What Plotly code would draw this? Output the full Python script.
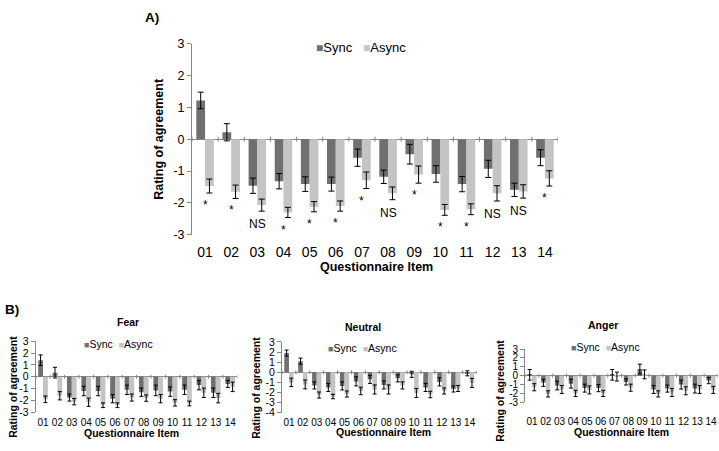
import plotly.graph_objects as go

# ---------------- data ----------------
items = ["01", "02", "03", "04", "05", "06", "07", "08", "09", "10", "11", "12", "13", "14"]

# Panel A (overall)
a_sync = [1.22, 0.22, -1.46, -1.32, -1.41, -1.41, -0.58, -1.18, -0.47, -1.09, -1.41, -0.93, -1.59, -0.58]
a_sync_err = [0.26, 0.27, 0.24, 0.24, 0.23, 0.22, 0.27, 0.21, 0.31, 0.26, 0.24, 0.27, 0.21, 0.25]
a_async = [-1.47, -1.65, -2.07, -2.30, -2.12, -2.10, -1.29, -1.70, -1.11, -2.22, -2.20, -1.70, -1.64, -1.23]
a_async_err = [0.22, 0.21, 0.19, 0.16, 0.16, 0.16, 0.26, 0.20, 0.27, 0.17, 0.17, 0.24, 0.21, 0.24]
a_sig = ["*", "*", "NS", "*", "*", "*", "*", "NS", "*", "*", "*", "NS", "NS", "*"]

# Panel B - Fear
fear_sync = [1.40, 0.35, -1.75, -1.20, -1.20, -1.85, -1.10, -1.30, -1.15, -1.25, -1.10, -0.70, -1.35, -0.60]
fear_sync_err = [0.45, 0.45, 0.30, 0.40, 0.40, 0.35, 0.40, 0.35, 0.45, 0.40, 0.40, 0.40, 0.40, 0.30]
fear_async = [-1.90, -1.60, -2.10, -2.15, -2.40, -2.40, -1.75, -1.80, -1.85, -2.20, -2.25, -1.35, -1.80, -0.85]
fear_async_err = [0.28, 0.35, 0.27, 0.35, 0.20, 0.20, 0.30, 0.27, 0.35, 0.27, 0.20, 0.40, 0.40, 0.40]

# Panel B - Neutral
neutral_sync = [1.90, 1.10, -1.30, -1.50, -1.35, -0.90, -0.70, -1.25, -0.60, -0.20, -1.50, -0.95, -1.65, -0.10]
neutral_sync_err = [0.30, 0.30, 0.35, 0.40, 0.40, 0.45, 0.40, 0.40, 0.35, 0.30, 0.40, 0.40, 0.30, 0.25]
neutral_async = [-1.00, -1.20, -2.25, -2.40, -2.15, -1.85, -1.70, -1.70, -1.30, -2.05, -2.20, -1.85, -1.60, -1.05]
neutral_async_err = [0.42, 0.44, 0.30, 0.22, 0.30, 0.37, 0.45, 0.45, 0.35, 0.45, 0.32, 0.30, 0.30, 0.45]

# Panel B - Anger
anger_sync = [0.10, -0.80, -1.10, -0.90, -1.40, -1.40, 0.10, -0.70, 0.75, -1.55, -1.45, -1.00, -1.45, -0.55]
anger_sync_err = [0.60, 0.40, 0.50, 0.50, 0.45, 0.40, 0.60, 0.35, 0.55, 0.45, 0.40, 0.50, 0.50, 0.35]
anger_async = [-1.30, -2.05, -1.55, -2.00, -1.60, -2.00, -0.10, -1.35, 0.15, -2.05, -1.90, -1.70, -1.55, -1.60]
anger_async_err = [0.40, 0.35, 0.45, 0.35, 0.45, 0.35, 0.50, 0.40, 0.50, 0.35, 0.45, 0.45, 0.45, 0.40]

ytick_a = [3, 2, 1, 0, -1, -2, -3]
ytick_a_text = ["3", "2", "1", "0", "-1", "-2", "-3"]
ytick_n = [3, 2, 1, 0, -1, -2, -3, -4]
ytick_n_text = ["3", "2", "1", "0", "-1", "-2", "-3", "-4"]

# ---------------- style ----------------
W, H = 719, 451
SYNC_C = "#707070"
ASYNC_C = "#c4c4c4"
AX_C = "#868686"
FONT = "Liberation Sans, Arial, sans-serif"


def px(x):
    return x / W


def py(y):
    return 1 - y / H


panels = [
    dict(sfx="", sync=a_sync, se=a_sync_err, asy=a_async, ae=a_async_err,
         x0=192, x1=558, ytop=38, ybot=235, yr=(-3, 3), yt=ytick_a, ytt=ytick_a_text,
         tickfs=14, ytickfs=12.5, cap=3, standoff=7, tlen=2.5,
         title=None, ytitle=(159, 136), xtitle=(377, 268), titlefs=12.5,
         legend=(314, 42), legfs=13, sqfs=12, gap=3),
    dict(sfx="2", sync=fear_sync, se=fear_sync_err, asy=fear_async, ae=fear_async_err,
         x0=35.8, x1=237.4, ytop=345, ybot=418.3, yr=(-3, 3), yt=ytick_a, ytt=ytick_a_text,
         tickfs=10, ytickfs=10.5, cap=2, standoff=3, tlen=2,
         title=("Fear", 128, 325.5), ytitle=(13, 392), xtitle=(131, 439.5), titlefs=10.5,
         legend=(82, 348), legfs=10.5, sqfs=9, gap=2),
    dict(sfx="3", sync=neutral_sync, se=neutral_sync_err, asy=neutral_async, ae=neutral_async_err,
         x0=282, x1=476.6, ytop=345.7, ybot=418.7, yr=(-4, 3), yt=ytick_n, ytt=ytick_n_text,
         tickfs=10, ytickfs=10.5, cap=2, standoff=2, tlen=2,
         title=("Neutral", 363, 330), ytitle=(256, 393), xtitle=(383, 439), titlefs=10.5,
         legend=(326, 352), legfs=10.5, sqfs=9, gap=2),
    dict(sfx="4", sync=anger_sync, se=anger_sync_err, asy=anger_async, ae=anger_async_err,
         x0=525.1, x1=717.9, ytop=353, ybot=408, yr=(-3, 3), yt=ytick_a, ytt=ytick_a_text,
         tickfs=10, ytickfs=10, cap=2, standoff=12, tlen=2,
         title=("Anger", 603, 328.5), ytitle=(500, 396), xtitle=(621.5, 439), titlefs=10.5,
         legend=(569, 351), legfs=10.5, sqfs=9, gap=2),
]

fig = go.Figure()
annotations = []
shapes = []
layout_axes = {}

for p in panels:
    xa = "x" + p["sfx"]
    ya = "y" + p["sfx"]
    fig.add_trace(go.Bar(
        x=items, y=p["sync"], name="Sync", xaxis=xa, yaxis=ya,
        marker=dict(color=SYNC_C, line=dict(width=0)),
        error_y=dict(type="data", array=p["se"], color="black", thickness=1, width=p["cap"]),
        showlegend=False,
    ))
    fig.add_trace(go.Bar(
        x=items, y=p["asy"], name="Async", xaxis=xa, yaxis=ya,
        marker=dict(color=ASYNC_C, line=dict(width=0)),
        error_y=dict(type="data", array=p["ae"], color="black", thickness=1, width=p["cap"]),
        showlegend=False,
    ))
    layout_axes["xaxis" + p["sfx"]] = dict(
        domain=[px(p["x0"]), px(p["x1"])], anchor=ya, type="category",
        range=[-0.5, len(items) - 0.5], showline=False, showgrid=False, zeroline=False,
        ticks="", ticklabelstandoff=p["standoff"], tickangle=0,
        tickfont=dict(size=p["tickfs"], color="black", family=FONT),
    )
    layout_axes["yaxis" + p["sfx"]] = dict(
        domain=[py(p["ybot"]), py(p["ytop"])], anchor=xa, range=list(p["yr"]),
        tickvals=p["yt"], ticktext=p["ytt"], showgrid=False,
        showline=True, linecolor=AX_C, linewidth=1,
        ticks="outside", ticklen=4, tickcolor=AX_C, tickwidth=1,
        zeroline=True, zerolinecolor=AX_C, zerolinewidth=1,
        tickfont=dict(size=p["ytickfs"], color="black", family=FONT),
    )
    # category boundary tick marks on the zero line
    for i in range(len(items) + 1):
        shapes.append(dict(
            type="line", xref=xa, yref=ya, x0=i - 0.5, x1=i - 0.5,
            ysizemode="pixel", yanchor=0, y0=-p["tlen"], y1=p["tlen"],
            line=dict(color=AX_C, width=1),
        ))
    # axis titles
    annotations.append(dict(
        text="<b>Rating of agreement</b>", textangle=-90, xref="paper", yref="paper",
        x=px(p["ytitle"][0]), y=py(p["ytitle"][1]), xanchor="center", yanchor="middle",
        showarrow=False, font=dict(size=p["titlefs"], family=FONT, color="black"),
    ))
    annotations.append(dict(
        text="<b>Questionnaire Item</b>", xref="paper", yref="paper",
        x=px(p["xtitle"][0]), y=py(p["xtitle"][1]), xanchor="center", yanchor="middle",
        showarrow=False, font=dict(size=p["titlefs"], family=FONT, color="black"),
    ))
    if p["title"]:
        annotations.append(dict(
            text="<b>%s</b>" % p["title"][0], xref="paper", yref="paper",
            x=px(p["title"][1]), y=py(p["title"][2]), xanchor="center", yanchor="middle",
            showarrow=False, font=dict(size=p["titlefs"], family=FONT, color="black"),
        ))
    # legend (compact, Excel-like)
    sq = p["sqfs"]
    nb = "\u00a0"
    legtext = ('<span style="color:%s;font-size:%spx">\u25a0</span>Sync%s'
               '<span style="color:%s;font-size:%spx">\u25a0</span>Async'
               % (SYNC_C, sq, nb * p["gap"], ASYNC_C, sq))
    annotations.append(dict(
        text=legtext, xref="paper", yref="paper",
        x=px(p["legend"][0]), y=py(p["legend"][1]), xanchor="left", yanchor="middle",
        showarrow=False, font=dict(size=p["legfs"], family=FONT, color="black"),
    ))

# significance markers for panel A
for i, lab in enumerate(a_sig):
    annotations.append(dict(
        text=lab, xref="x", yref="y", x=i, y=a_async[i] - a_async_err[i],
        xanchor="center", yanchor="top", yshift=-3 if lab == "*" else -4,
        showarrow=False, font=dict(size=12, family=FONT, color="black"),
    ))

# panel labels
annotations.append(dict(text="<b>A)</b>", xref="paper", yref="paper", x=px(161), y=py(11),
                        xanchor="right", yanchor="middle", showarrow=False,
                        font=dict(size=13.5, family=FONT, color="black")))
annotations.append(dict(text="<b>B)</b>", xref="paper", yref="paper", x=px(3), y=py(312),
                        xanchor="left", yanchor="middle", showarrow=False,
                        font=dict(size=13.5, family=FONT, color="black")))

fig.update_layout(
    width=W, height=H, margin=dict(l=0, r=0, t=0, b=0),
    paper_bgcolor="white", plot_bgcolor="white",
    barmode="group", bargap=0.33, bargroupgap=0,
    showlegend=False, font=dict(family=FONT, color="black"),
    annotations=annotations, shapes=shapes,
    **layout_axes,
)

fig.write_html("out.html", config={"displayModeBar": False},
               post_script="document.body.style.margin='0px';")
